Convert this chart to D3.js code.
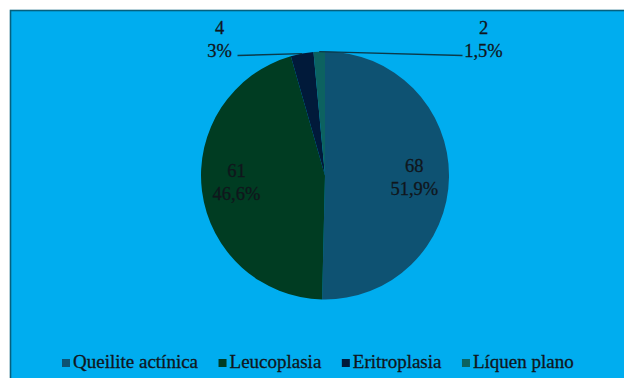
<!DOCTYPE html>
<html><head><meta charset="utf-8">
<script src="https://cdn.jsdelivr.net/npm/d3@7"></script>
<style>html,body{margin:0;padding:0;background:#fff;}svg{display:block;}</style>
</head><body>
<svg id="chart" width="624" height="378"></svg>
<script>
const categories = ["Queilite actínica", "Leucoplasia", "Eritroplasia", "Líquen plano"];
const values = [68, 61, 4, 2];
const percentLabels = ["51,9%", "46,6%", "3%", "1,5%"];
const colors = ["#0E5272", "#003C22", "#011A3A", "#0C6260"];

const svg = d3.select("#chart");
const W = 624, H = 378;
svg.append("rect").attr("x", 10.5).attr("y", 10.5).attr("width", W).attr("height", H)
  .attr("fill", "#00ADEF").attr("stroke", "#05607E").attr("stroke-width", 1.6);

const cx = 325, cy = 175.5, r = 124;
const pie = d3.pie().sort(null).value(d => d);
const arcs = pie(values);
const arc = d3.arc().innerRadius(0).outerRadius(r);
const g = svg.append("g").attr("transform", `translate(${cx},${cy})`);
g.selectAll("path").data(arcs).join("path").attr("d", arc).attr("fill", (d, i) => colors[i]);

const font = "'Liberation Serif', 'Times New Roman', serif";
const textColor = "#10161c";
const fs = 18.5;
function styleText(t) {
  return t.attr("font-family", font).attr("font-size", fs).attr("fill", textColor)
    .attr("stroke", textColor).attr("stroke-width", 0.3);
}
// inside labels
const inner = d3.arc().innerRadius(r * 0.72).outerRadius(r * 0.72);
[0, 1].forEach(i => {
  const [x, y] = inner.centroid(arcs[i]);
  const t = styleText(g.append("text").attr("text-anchor", "middle"));
  const base = y * 0.5 - 4;
  t.append("tspan").attr("x", x).attr("y", base).text(values[i]);
  t.append("tspan").attr("x", x).attr("y", base + 23).text(percentLabels[i]);
});

// outside labels with leader lines
const outside = [
  {i: 2, lx: 219.5 - cx, anchor: "end"},
  {i: 3, lx: 483.5 - cx, anchor: "start"}
];
outside.forEach(o => {
  const a = arcs[o.i];
  const mid = (a.startAngle + a.endAngle) / 2;
  const px = Math.sin(mid) * r, py = -Math.cos(mid) * r;
  const ly = 55.5 - cy;
  const lineEnd = o.anchor === "end" ? o.lx + 18 : o.lx - 21;
  g.append("path").attr("d", `M${px},${py}L${lineEnd},${ly}`)
    .attr("fill", "none").attr("stroke", "#0b3a4a").attr("stroke-width", 1.4);
  const t = styleText(g.append("text").attr("text-anchor", "middle"));
  t.append("tspan").attr("x", o.lx).attr("y", 34 - cy).text(values[o.i]);
  t.append("tspan").attr("x", o.lx).attr("y", 57 - cy).text(percentLabels[o.i]);
});

// legend
const legend = svg.append("g");
let lx = 62;
const legY = 368;
categories.forEach((c, i) => {
  legend.append("rect").attr("x", lx).attr("y", legY - 9).attr("width", 8).attr("height", 8)
    .attr("fill", colors[i]);
  const t = styleText(legend.append("text").attr("x", lx + 11).attr("y", legY)).attr("font-size", 19).text(c);
  lx += 11 + t.node().getComputedTextLength() + 20.5;
});
</script>
</body></html>
